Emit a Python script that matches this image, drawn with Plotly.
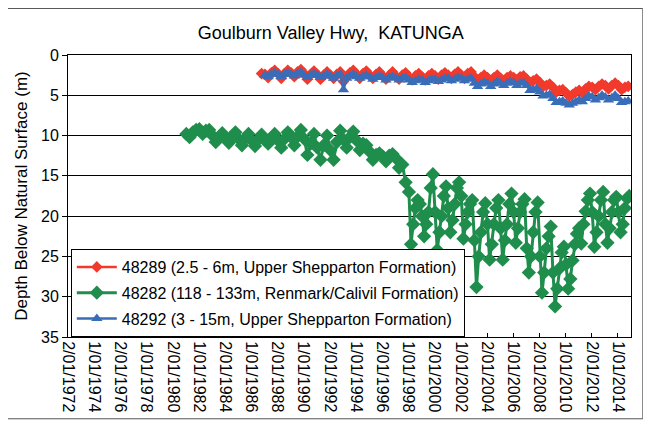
import plotly.graph_objects as go
import pandas as pd

# quarterly sampling for the shallow bores
dates_48289 = pd.date_range("1986-10-01", "2014-10-01", freq="3MS") + pd.Timedelta(days=14)
dates_48292 = pd.date_range("1987-01-01", "2014-10-01", freq="3MS") + pd.Timedelta(days=14)
# deep bore: quarterly to 1997, then every two months
dates_48282 = (pd.date_range("1981-01-01", "1997-10-01", freq="3MS")
               .append(pd.date_range("1998-01-01", "2014-11-01", freq="2MS"))
               + pd.Timedelta(days=14))

depth_48289 = [
    2.3,
    2.4, 2.8, 2.2, 1.9,  2.3, 2.9, 2.3, 1.9,  2.2, 2.7, 2.1, 1.8,  2.3, 3.0, 2.4, 2.0,
    2.4, 3.0, 2.5, 2.1,  2.5, 2.9, 2.4, 2.1,  3.3, 2.7, 2.2, 1.9,  2.4, 2.9, 2.3, 2.0,
    2.5, 2.9, 2.4, 2.1,  2.6, 3.0, 2.5, 2.1,  2.6, 3.0, 2.5, 2.2,  2.7, 3.1, 2.6, 2.3,
    2.7, 3.1, 2.6, 2.3,  2.6, 3.0, 2.5, 2.2,  2.5, 2.9, 2.4, 2.1,  2.5, 2.9, 2.3, 2.1,
    2.7, 3.1, 2.8, 2.5,  2.8, 3.2, 2.8, 2.5,  2.9, 3.2, 2.8, 2.6,  2.8, 3.1, 2.7, 2.6,
    3.0, 3.4, 3.2, 3.0,  3.4, 3.9, 3.8, 3.6,  4.0, 4.6, 4.4, 4.3,  4.7, 5.1, 4.9, 4.6,
    4.4, 4.7, 4.2, 3.9,  4.0, 4.3, 3.9, 3.6,  3.8, 4.2, 3.8, 3.5,  3.8, 4.3, 4.0, 3.9,
]

depth_48292 = [
    2.5, 2.7, 2.4, 2.2,  2.4, 2.7, 2.4, 2.2,  2.4, 2.6, 2.3, 2.1,  2.5, 2.8, 2.5, 2.3,
    2.5, 2.8, 2.6, 2.4,  2.6, 2.9, 2.6, 2.4,  4.3, 2.9, 2.6, 2.4,  2.7, 2.9, 2.7, 2.5,
    2.7, 3.0, 2.8, 2.6,  2.8, 3.1, 2.8, 2.7,  2.9, 3.1, 2.9, 2.8,  3.1, 3.4, 3.2, 3.0,
    3.1, 3.4, 3.2, 3.0,  3.0, 3.3, 3.1, 2.9,  2.9, 3.2, 3.0, 2.8,  2.9, 3.2, 3.0, 2.9,
    3.5, 3.9, 3.6, 3.4,  3.5, 3.9, 3.6, 3.3,  3.5, 3.8, 3.5, 3.3,  3.4, 3.8, 3.5, 3.4,
    3.8, 4.4, 4.3, 4.2,  4.6, 5.1, 5.0, 4.9,  5.4, 5.9, 5.8, 5.7,  6.0, 6.2, 6.0, 5.8,
    5.6, 5.8, 5.4, 5.1,  5.2, 5.6, 5.3, 5.0,  5.2, 5.6, 5.3, 5.0,  5.4, 5.9, 5.8, 5.7,
]

depth_48282 = [
    # 1981-1997, quarterly
    9.8, 10.2, 9.6, 9.3,    9.2, 9.8, 9.4, 9.3,     10.0, 10.8, 10.2, 9.7,
    10.3, 10.9, 10.1, 9.6,  10.4, 11.2, 10.4, 9.8,  10.6, 11.3, 10.5, 9.9,
    10.5, 11.0, 10.3, 9.8,  10.6, 11.5, 10.4, 9.6,  10.2, 11.2, 10.1, 9.3,
    10.4, 12.4, 11.0, 9.8,  11.5, 13.0, 11.2, 10.0, 11.8, 13.0, 10.8, 9.4,
    10.5, 11.5, 10.2, 9.5,  10.6, 11.8, 11.0, 11.2, 12.0, 13.0, 12.4, 12.2,
    12.6, 13.2, 12.5, 12.3, 12.8, 14.0, 13.6, 15.8,
    # 1998-2014, every two months
    17.0, 23.5, 21.0, 19.0, 18.0, 18.5,
    20.0, 22.5, 21.0, 19.5, 16.5, 14.8,
    19.5, 24.2, 22.0, 20.0, 17.5, 16.3,
    19.0, 22.0, 20.5, 18.5, 16.5, 15.8,
    17.5, 22.8, 21.0, 19.5, 18.5, 18.0,
    23.0, 28.8, 25.0, 22.0, 19.5, 18.4,
    21.0, 25.4, 23.5, 21.0, 19.0, 18.0,
    21.5, 25.4, 23.0, 21.0, 18.5, 17.2,
    19.5, 23.3, 21.5, 19.5, 18.5, 17.9,
    24.0, 27.0, 25.0, 22.0, 19.5, 18.3,
    25.0, 29.5, 27.0, 24.0, 22.5, 21.3,
    27.0, 31.2, 29.0, 26.5, 24.5, 23.8,
    26.0, 29.0, 27.8, 25.5, 23.5, 22.2,
    21.5, 23.4, 21.0, 19.4, 18.0, 17.2,
    19.5, 23.8, 22.0, 20.0, 18.0, 17.0,
    21.0, 23.3, 21.5, 19.5, 18.0, 17.6,
    19.5, 22.0, 21.0, 19.0, 17.8, 17.5,
]

tick_dates = ["1972-01-02", "1974-01-01", "1976-01-02", "1978-01-01", "1980-01-02",
              "1982-01-01", "1984-01-02", "1986-01-01", "1988-01-02", "1990-01-01",
              "1992-01-02", "1994-01-01", "1996-01-02", "1998-01-01", "2000-01-02",
              "2002-01-01", "2004-01-02", "2006-01-01", "2008-01-02", "2010-01-01",
              "2012-01-02", "2014-01-01"]
tick_text = ["2/01/1972", "1/01/1974", "2/01/1976", "1/01/1978", "2/01/1980",
             "1/01/1982", "2/01/1984", "1/01/1986", "2/01/1988", "1/01/1990",
             "2/01/1992", "1/01/1994", "2/01/1996", "1/01/1998", "2/01/2000",
             "1/01/2002", "2/01/2004", "1/01/2006", "2/01/2008", "1/01/2010",
             "2/01/2012", "1/01/2014"]

fig = go.Figure()

fig.add_trace(go.Scatter(
    x=dates_48289, y=depth_48289, mode="lines+markers", legendgroup="a",
    name="48289 (2.5 - 6m, Upper Shepparton Formation)",
    line=dict(color="#F23A2C", width=2.5),
    marker=dict(symbol="diamond", size=9, color="#F23A2C"),
))
fig.add_trace(go.Scatter(
    x=dates_48282, y=depth_48282, mode="lines+markers", legendgroup="b",
    name="48282 (118 - 133m, Renmark/Calivil Formation)",
    line=dict(color="#1F8E4C", width=3),
    marker=dict(symbol="diamond", size=11, color="#1F8E4C"),
))
fig.add_trace(go.Scatter(
    x=dates_48292, y=depth_48292, mode="lines+markers", legendgroup="c",
    name="48292 (3 - 15m, Upper Shepparton Formation)",
    line=dict(color="#3A6DB8", width=2.5),
    marker=dict(symbol="triangle-up", size=10, color="#3A6DB8"),
))

fig.update_layout(
    width=643, height=417,
    margin=dict(l=60, r=20, t=47, b=88),
    paper_bgcolor="white", plot_bgcolor="white",
    font=dict(family="Liberation Sans, Arial, sans-serif", size=15, color="black"),
    title=dict(text="Goulburn Valley Hwy,  KATUNGA", x=0.502, xanchor="center",
               y=0.94, yanchor="middle", font=dict(size=18)),
    showlegend=True,
    legend=dict(x=0.005, y=0, xanchor="left", yanchor="bottom",
                bgcolor="white", bordercolor="black", borderwidth=1,
                font=dict(size=16), tracegroupgap=2, itemwidth=40),
    shapes=[dict(type="rect", xref="paper", yref="paper", x0=-0.11, x1=1.021,
                 y0=-0.29, y1=1.165, line=dict(color="#555555", width=1))],
)

fig.update_xaxes(
    type="date", range=["1972-01-02", "2015-01-01"],
    tickvals=tick_dates, ticktext=tick_text, tickangle=90,
    ticks="inside", ticklen=4, tickcolor="black",
    showgrid=False, showline=True, linecolor="black", linewidth=1, mirror=True,
    tickfont=dict(size=16),
)
fig.update_yaxes(
    range=[35, 0], tickvals=[0, 5, 10, 15, 20, 25, 30, 35],
    ticks="outside", ticklen=5, tickcolor="black",
    showgrid=True, gridcolor="black", gridwidth=1,
    showline=True, linecolor="black", linewidth=1, mirror=True,
    zeroline=False,
    title=dict(text="Depth Below Natural Surface (m)", font=dict(size=17), standoff=9),
    tickfont=dict(size=16),
)

fig.write_html("out.html")
